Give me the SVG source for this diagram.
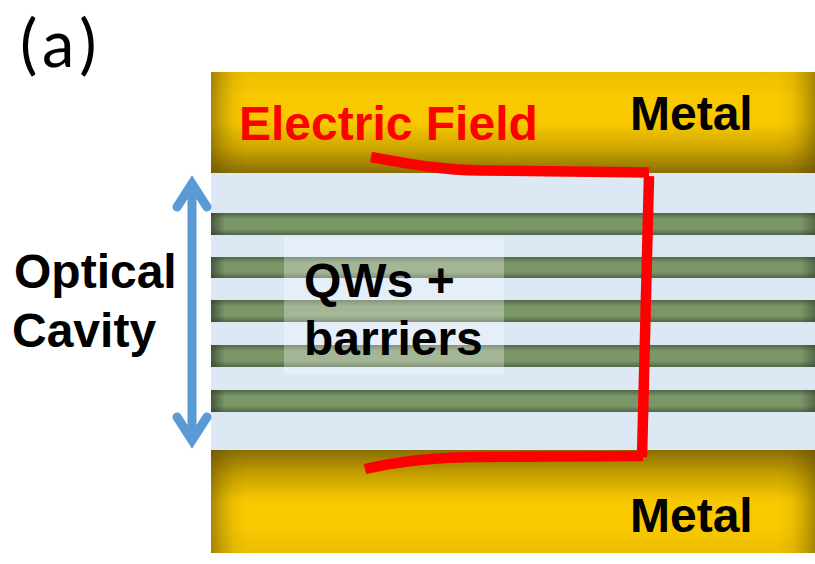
<svg xmlns="http://www.w3.org/2000/svg" width="815" height="564" viewBox="0 0 815 564">
<defs>
<style>
.lbl{font-family:"Liberation Sans",Arial,sans-serif;font-weight:700;font-size:48px;fill:#000}
.arrow{fill:none;stroke:#5b9bd5;stroke-width:9;stroke-linecap:round;stroke-linejoin:miter;stroke-miterlimit:10}
.field{fill:none;stroke:#f00;stroke-width:10.5}
</style>
<linearGradient id="mTop" x1="0" y1="0" x2="0" y2="1">
<stop offset="0" stop-color="#ecbe00"/><stop offset=".13" stop-color="#f2c300"/><stop offset=".26" stop-color="#f9c900"/><stop offset=".5" stop-color="#f9c900"/><stop offset=".75" stop-color="#cfa700"/><stop offset="1" stop-color="#8a6f00"/>
</linearGradient>
<linearGradient id="mBot" x1="0" y1="1" x2="0" y2="0">
<stop offset="0" stop-color="#ecbe00"/><stop offset=".13" stop-color="#f2c300"/><stop offset=".26" stop-color="#f9c900"/><stop offset=".5" stop-color="#f9c900"/><stop offset=".75" stop-color="#c9a200"/><stop offset="1" stop-color="#8a6f00"/>
</linearGradient>
<linearGradient id="edgeL" x1="0" y1="0" x2="1" y2="0">
<stop offset="0" stop-color="#5a4800" stop-opacity=".5"/><stop offset=".3" stop-color="#5a4800" stop-opacity=".26"/><stop offset=".65" stop-color="#5a4800" stop-opacity=".07"/><stop offset="1" stop-color="#5a4800" stop-opacity="0"/>
</linearGradient>
<linearGradient id="edgeR" x1="1" y1="0" x2="0" y2="0">
<stop offset="0" stop-color="#5a4800" stop-opacity=".5"/><stop offset=".3" stop-color="#5a4800" stop-opacity=".26"/><stop offset=".65" stop-color="#5a4800" stop-opacity=".07"/><stop offset="1" stop-color="#5a4800" stop-opacity="0"/>
</linearGradient>
<linearGradient id="bandV" x1="0" y1="0" x2="0" y2="1">
<stop offset="0" stop-color="#526748"/><stop offset=".28" stop-color="#7b9768"/><stop offset=".72" stop-color="#7b9768"/><stop offset="1" stop-color="#526748"/>
</linearGradient>
<linearGradient id="bandE" x1="0" y1="0" x2="1" y2="0">
<stop offset="0" stop-color="#2f3d2a" stop-opacity=".7"/><stop offset="1" stop-color="#2f3d2a" stop-opacity="0"/>
</linearGradient>
<linearGradient id="bandR" x1="1" y1="0" x2="0" y2="0">
<stop offset="0" stop-color="#2f3d2a" stop-opacity=".5"/><stop offset="1" stop-color="#2f3d2a" stop-opacity="0"/>
</linearGradient>
</defs>
<rect width="815" height="564" fill="#fff"/>
<text x="20" y="67" font-family="Lato,'Open Sans',sans-serif" font-size="65" letter-spacing="6" fill="#000">(a)</text>
<g id="cavity">
<rect x="211" y="173" width="604" height="277" fill="#dce9f5"/>
</g>
<g id="metal-top">
<rect x="211" y="72" width="604" height="101" fill="url(#mTop)"/>
<rect x="211" y="72" width="36" height="101" fill="url(#edgeL)"/>
<rect x="779" y="72" width="36" height="101" fill="url(#edgeR)"/>
<text class="lbl" x="630" y="130">Metal</text>
</g>
<g id="metal-bottom">
<rect x="211" y="450" width="604" height="103" fill="url(#mBot)"/>
<rect x="211" y="450" width="36" height="103" fill="url(#edgeL)"/>
<rect x="779" y="450" width="36" height="103" fill="url(#edgeR)"/>
<text class="lbl" x="630" y="532">Metal</text>
</g>
<g id="qws">
<rect x="211" y="213" width="604" height="22" fill="url(#bandV)"/>
<rect x="211" y="257" width="604" height="21" fill="url(#bandV)"/>
<rect x="211" y="300" width="604" height="22" fill="url(#bandV)"/>
<rect x="211" y="345" width="604" height="22" fill="url(#bandV)"/>
<rect x="211" y="390" width="604" height="22" fill="url(#bandV)"/>
<g fill="url(#bandE)">
<rect x="211" y="213" width="14" height="22"/>
<rect x="211" y="257" width="14" height="21"/>
<rect x="211" y="300" width="14" height="22"/>
<rect x="211" y="345" width="14" height="22"/>
<rect x="211" y="390" width="14" height="22"/>
</g>
<g fill="url(#bandR)">
<rect x="801" y="213" width="14" height="22"/>
<rect x="801" y="257" width="14" height="21"/>
<rect x="801" y="300" width="14" height="22"/>
<rect x="801" y="345" width="14" height="22"/>
<rect x="801" y="390" width="14" height="22"/>
</g>
</g>
<g id="qw-label">
<rect x="284" y="238" width="220" height="136" fill="#fff" fill-opacity=".3"/>
<text class="lbl" x="304" y="297">QWs +</text>
<text class="lbl" x="304" y="355">barriers</text>
</g>
<g id="optical-cavity">
<text class="lbl" x="14" y="288">Optical</text>
<text class="lbl" x="12" y="347">Cavity</text>
</g>
<g id="connectors">
<path class="arrow" d="M192 184V440M177 207L192 183.500L207 207M177 417L192 440.500L207 417"/>
<path class="field" d="M371 157C410 164 440 170 480 170.500L649 172.500"/>
<path class="field" d="M649 176L642 457"/>
<path class="field" d="M365 469C400 461 440 457 480 457L643 456"/>
</g>
<g id="field-label">
<text x="239" y="140" font-family="'Liberation Sans',Arial,sans-serif" font-weight="700" font-size="48" fill="#f00">Electric Field</text>
</g>
</svg>
